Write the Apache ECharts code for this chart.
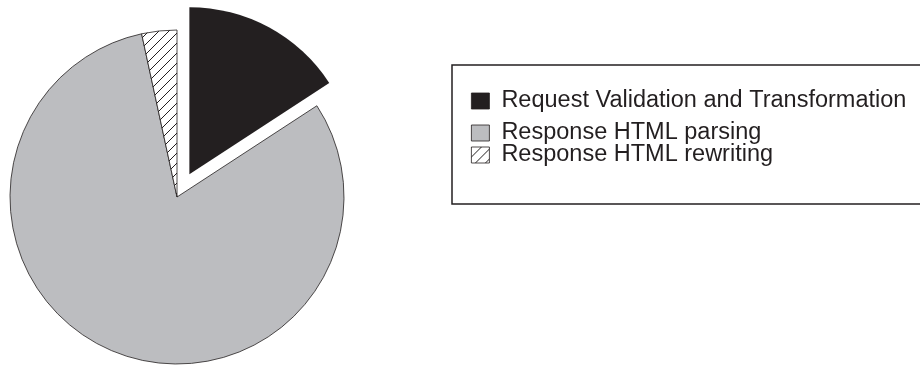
<!DOCTYPE html>
<html>
<head>
<meta charset="utf-8">
<style>
  html, body { margin: 0; padding: 0; background: #ffffff; }
  #chart { width: 920px; height: 367px; }
</style>
<script src="https://cdn.jsdelivr.net/npm/echarts@6/dist/echarts.min.js"></script>
</head>
<body>
<div id="chart"></div>
<script>
// Share of processing time per stage (percent)
const categories = [
  'Request Validation and Transformation',
  'Response HTML parsing',
  'Response HTML rewriting'
];
const shares = [15.8, 80.8, 3.4];

// Diagonal hatch fill for the rewriting slice
function hatchPattern(step) {
  const c = document.createElement('canvas');
  c.width = step; c.height = step;
  const g = c.getContext('2d');
  g.fillStyle = '#ffffff';
  g.fillRect(0, 0, step, step);
  g.strokeStyle = '#231f20';
  g.lineWidth = 1;
  g.beginPath();
  g.moveTo(-1, step + 1); g.lineTo(step + 1, -1);
  g.moveTo(-1, 1); g.lineTo(1, -1);
  g.moveTo(step - 1, step + 1); g.lineTo(step + 1, step - 1);
  g.stroke();
  return c;
}

const hatch = { image: hatchPattern(10), repeat: 'repeat' };
const fills = ['#231f20', '#bcbdc0', hatch];
const borders = [0, 0.8, 0.8];

const legendText = {
  fontFamily: 'Liberation Sans',
  fontSize: 23.5,
  color: '#231f20',
  padding: [0, 0, 0, 7]
};

const chart = echarts.init(document.getElementById('chart'), null, { renderer: 'canvas' });

chart.setOption({
  animation: false,
  backgroundColor: '#ffffff',
  graphic: [{
    type: 'rect',
    shape: { x: 452, y: 65, width: 480, height: 139 },
    style: { fill: 'none', stroke: '#231f20', lineWidth: 1.5 },
    z: 0
  }],
  legend: [{
    data: [categories[0]],
    left: 471, top: 89,
    padding: 0,
    orient: 'vertical',
    icon: 'rect',
    itemWidth: 18, itemHeight: 16,
    itemStyle: { borderColor: '#231f20', borderWidth: 0.8 },
    selectedMode: false,
    textStyle: Object.assign({}, legendText, { lineHeight: 20 })
  }, {
    data: [categories[1], categories[2]],
    left: 471, top: 121,
    padding: 0,
    orient: 'vertical',
    icon: 'rect',
    itemWidth: 18, itemHeight: 16,
    itemGap: -2,
    itemStyle: { borderColor: '#231f20', borderWidth: 0.8 },
    selectedMode: false,
    textStyle: Object.assign({}, legendText, { lineHeight: 17 })
  }],
  series: [{
    type: 'pie',
    center: [177, 197],
    radius: 167,
    startAngle: 90,
    clockwise: true,
    selectedMode: 'single',
    selectedOffset: 26,
    label: { show: false },
    labelLine: { show: false },
    emphasis: { disabled: true },
    data: categories.map((name, i) => ({
      name,
      value: shares[i],
      selected: i === 0,
      itemStyle: {
        color: fills[i],
        borderColor: '#231f20',
        borderWidth: borders[i]
      }
    }))
  }]
});
</script>
</body>
</html>
